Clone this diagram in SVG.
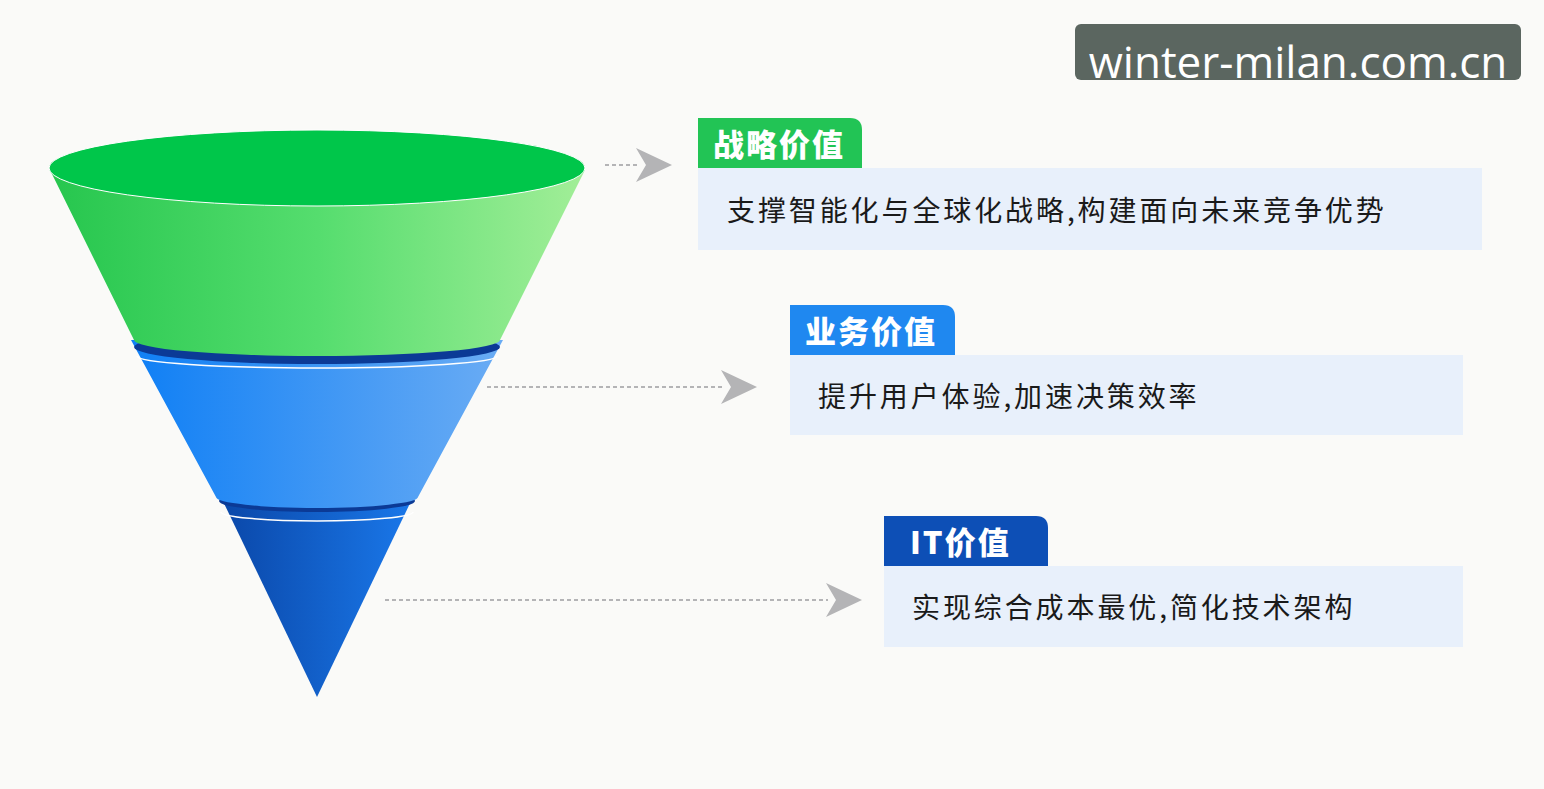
<svg xmlns="http://www.w3.org/2000/svg" width="1544" height="789" viewBox="0 0 1544 789">
<defs>
<linearGradient id="gG" x1="0" x2="1"><stop offset="0" stop-color="#26c64e"/><stop offset="0.5" stop-color="#55dd6e"/><stop offset="1" stop-color="#a2ee98"/></linearGradient>
<linearGradient id="gB" x1="0" x2="1"><stop offset="0" stop-color="#0f7ff5"/><stop offset="1" stop-color="#6aacf4"/></linearGradient>
<linearGradient id="gD" x1="0" x2="1"><stop offset="0" stop-color="#0a47a8"/><stop offset="1" stop-color="#1a78ea"/></linearGradient>
<marker id="chev" viewBox="0 0 36 36" refX="2" refY="18" markerWidth="36" markerHeight="36" markerUnits="userSpaceOnUse" orient="auto"><path d="M0,1 L36,18 L0,35 L10,18 Z" fill="#b4b4b6"/></marker>
<style>
.dash{stroke:#b4b4b6;stroke-width:2;stroke-dasharray:4 3;fill:none}
.tabt{font-family:"Noto Sans CJK SC",sans-serif;font-weight:900;font-size:31px;fill:#fff;letter-spacing:2px}
.body{fill:#e8f0fb}
.bt{font-family:"Noto Sans CJK SC",sans-serif;font-size:28px;fill:#1a1a1a;letter-spacing:2.9px}
</style>
</defs>
<rect width="1544" height="789" fill="#fafaf8"/>
<g id="funnel">
<path d="M220,495 L317,697 L414,495 Z" fill="url(#gD)"/>
<ellipse cx="317" cy="501" rx="98" ry="11" fill="#0b3a96"/>
<path d="M317,512 m-96,0 a96,9 0 0 0 192,0" fill="none" stroke="#fff" stroke-width="1.5"/>
<path d="M131,340 L216,497 A101,11 0 0 0 418,497 L503,340 Z" fill="url(#gB)"/>
<ellipse cx="317" cy="347" rx="183" ry="17" fill="#0b3a96"/>
<path d="M137,356 A180,12 0 0 0 497,356" fill="none" stroke="#fff" stroke-width="1.5"/>
<path d="M50,170 L134,340 A183,16 0 0 0 500,340 L585,170 Z" fill="url(#gG)"/>
<ellipse cx="317" cy="168" rx="268" ry="38" fill="#00c64a" stroke="#fff" stroke-width="1"/>
</g>
<g id="connectors">
<path class="dash" d="M605,165 H638" marker-end="url(#chev)"/>
<path class="dash" d="M487,387 H723" marker-end="url(#chev)"/>
<path class="dash" d="M385,600 H828" marker-end="url(#chev)"/>
</g>
<g id="card1">
<path d="M698,168 V118 H850 Q862,118 862,130 V168 Z" fill="#22c455"/>
<text class="tabt" x="713" y="156">战略价值</text>
<rect class="body" x="698" y="168" width="784" height="82"/>
<text class="bt" x="727" y="221">支撑智能化与全球化战略,构建面向未来竞争优势</text>
</g>
<g id="card2">
<path d="M790,355 V305 H943 Q955,305 955,317 V355 Z" fill="#1f88f0"/>
<text class="tabt" x="805" y="343">业务价值</text>
<rect class="body" x="790" y="355" width="673" height="80"/>
<text class="bt" x="818" y="407">提升用户体验,加速决策效率</text>
</g>
<g id="card3">
<path d="M884,566 V516 H1036 Q1048,516 1048,528 V566 Z" fill="#0d4fb6"/>
<text class="tabt" x="910" y="554">IT价值</text>
<rect class="body" x="884" y="566" width="579" height="81"/>
<text class="bt" x="912" y="618">实现综合成本最优,简化技术架构</text>
</g>
<g id="watermark">
<rect x="1075" y="24" width="446" height="56" rx="6" fill="#5b6660"/>
<text x="1298" y="78" text-anchor="middle" font-family="Open Sans, sans-serif" font-size="44" fill="#fff">winter-milan.com.cn</text>
</g>
</svg>
